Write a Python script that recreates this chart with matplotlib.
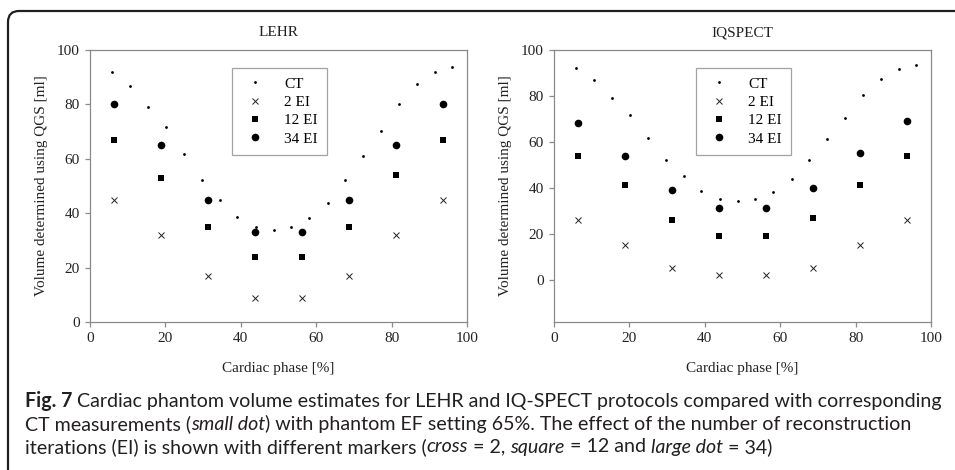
import matplotlib
matplotlib.use("Agg")
import matplotlib.pyplot as plt
from matplotlib.patches import FancyBboxPatch
from matplotlib.transforms import IdentityTransform

# CT reference volumes (small dots)
ct_phase = [5.9, 10.6, 15.5, 20.1, 24.9, 29.7, 34.5, 39.1, 43.9, 48.7,
            53.4, 58.2, 63.0, 67.7, 72.5, 77.1, 81.9, 86.7, 91.4, 96.1]
ct_volume = [92.0, 86.9, 79.1, 71.8, 61.8, 52.1, 45.0, 38.7, 35.0, 34.0,
             35.0, 38.3, 43.6, 52.1, 61.2, 70.2, 80.2, 87.4, 91.9, 93.6]

# gated SPECT phases
phase = [6.25, 18.75, 31.25, 43.75, 56.25, 68.75, 81.25, 93.75]

lehr_2 = [45, 32, 17, 9, 9, 17, 32, 45]
lehr_12 = [67, 53, 35, 24, 24, 35, 54, 67]
lehr_34 = [80, 65, 45, 33, 33, 45, 65, 80]

iq_2 = [26, 15, 5, 2, 2, 5, 15, 26]
iq_12 = [54, 41, 26, 19, 19, 27, 41, 54]
iq_34 = [68, 54, 39, 31, 31, 40, 55, 69]

panels = [
    ("LEHR", lehr_2, lehr_12, lehr_34, (0, 100)),
    ("IQSPECT", iq_2, iq_12, iq_34, (-18.5, 100)),
]

plt.rcParams['font.family'] = ['Liberation Serif', 'DejaVu Serif']
GRAY = '#8a8a8a'
INK = '#231f20'
TXT = '#222222'

fig = plt.figure(figsize=(9.55, 4.70), dpi=100)
fig.patch.set_facecolor('white')

lefts = [90 / 955, 554 / 955]
for left, (title, v2, v12, v34, ylim) in zip(lefts, panels):
    ax = fig.add_axes([left, 1 - 322 / 470, 377 / 955, 272 / 470])
    ax.plot(ct_phase, ct_volume, 'o', ms=2.0, color='k', mew=0, label='CT')
    ax.plot(phase, v2, 'x', ms=5, mew=0.7, color=TXT, label='2 EI')
    ax.plot(phase, v12, 's', ms=4.5, mew=0, color='k', label='12 EI')
    ax.plot(phase, v34, 'o', ms=5.5, mew=0, color='k', label='34 EI')
    ax.set_xlim(0, 100)
    ax.set_ylim(*ylim)
    ax.set_xticks(range(0, 101, 20))
    ax.set_yticks(range(0, 101, 20))
    for s in ax.spines.values():
        s.set_color(GRAY)
        s.set_linewidth(0.9)
    ax.tick_params(direction='out', length=3.5, width=0.9, color=GRAY,
                   labelsize=11, labelcolor=TXT, pad=4)
    ax.set_title(title, fontsize=11, pad=10, color=TXT)
    ax.set_xlabel('Cardiac phase [%]', fontsize=11, labelpad=12, color=TXT)
    ax.set_ylabel('Volume determined using QGS [ml]', fontsize=11, labelpad=6,
                  color=TXT)
    leg = ax.legend(loc='upper left', bbox_to_anchor=(0.377, 0.934),
                    fontsize=11, frameon=True, fancybox=False, borderpad=0.6,
                    handlelength=1.8, handletextpad=1.0, labelspacing=0.3,
                    borderaxespad=0)
    leg.get_frame().set_edgecolor(GRAY)
    leg.get_frame().set_linewidth(0.9)

# rounded frame around the figure (open to the right and bottom)
frame = FancyBboxPatch((8, -60), 1100, 470 - 11 + 60,
                       boxstyle='round,pad=0,rounding_size=11',
                       transform=IdentityTransform(), fill=False,
                       edgecolor=INK, linewidth=1.6)
fig.add_artist(frame)

# caption with mixed styles
cap_font = ['Lato', 'DejaVu Sans']
renderer = fig.canvas.get_renderer()

line1 = [("Fig. 7", dict(weight='bold')),
         (" Cardiac phantom volume estimates for LEHR and IQ-SPECT protocols compared with corresponding", {})]
line2 = [("CT measurements (", {}), ("small dot", dict(style='italic')),
         (") with phantom EF setting 65%. The effect of the number of reconstruction", {})]
line3 = [("iterations (EI) is shown with different markers (", {}),
         ("cross", dict(style='italic')), (" = 2, ", {}),
         ("square", dict(style='italic')), (" = 12 and ", {}),
         ("large dot", dict(style='italic')), (" = 34)", {})]


def seg_width(s, size, **kw):
    a = fig.text(0, 0, s + 'x', fontsize=size, family=cap_font, **kw)
    b = fig.text(0, 0, 'x', fontsize=size, family=cap_font, **kw)
    w = (a.get_window_extent(renderer).width - b.get_window_extent(renderer).width)
    a.remove()
    b.remove()
    return w


# size the caption so the first line spans the same width as in the original
w13 = sum(seg_width(s, 13, **kw) for s, kw in line1)
cap_size = 13 * 913 / w13


def caption_line(y, parts):
    x = 25
    for s, kw in parts:
        fig.text(x / 955, 1 - y / 470, s, fontsize=cap_size, family=cap_font,
                 color=INK, va='center', ha='left', **kw)
        x += seg_width(s, cap_size, **kw)


caption_line(401, line1)
caption_line(424, line2)
caption_line(447, line3)

fig.savefig('out.png', dpi=100)
